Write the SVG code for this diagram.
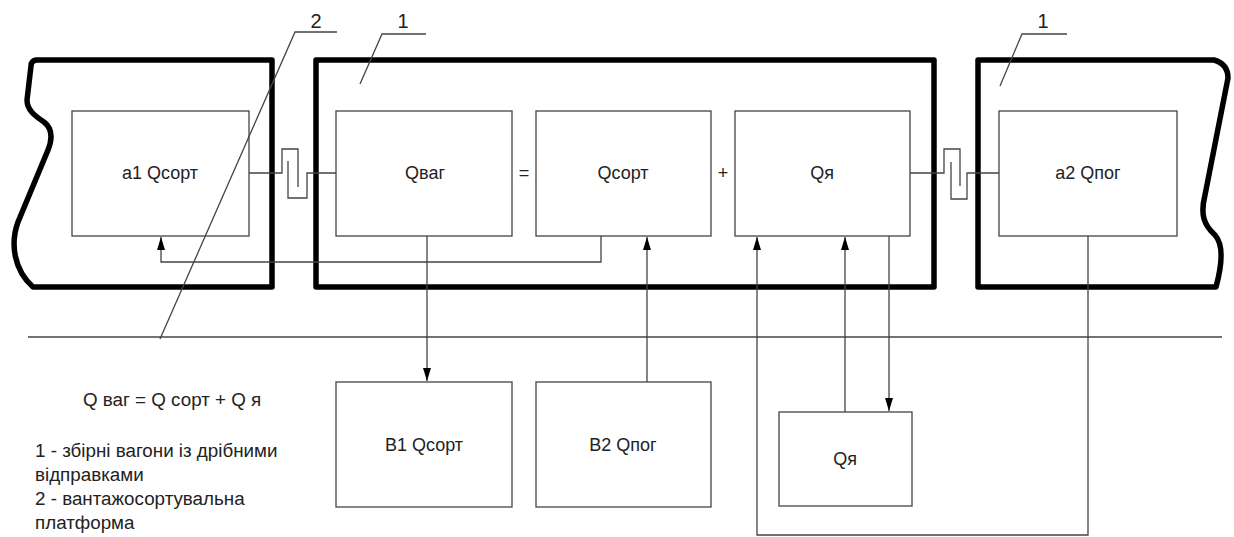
<svg xmlns="http://www.w3.org/2000/svg" width="1234" height="537" viewBox="0 0 1234 537">
<style>
.car{fill:none;stroke:#000;stroke-width:5.5;stroke-linejoin:round}
.box{fill:#fff;stroke:#444;stroke-width:1.3}
.ln{fill:none;stroke:#444;stroke-width:1.3}
.t{font-family:"Liberation Sans",Arial,sans-serif;font-size:18px;fill:#222}
.lg{font-family:"Liberation Sans",Arial,sans-serif;font-size:18.8px;fill:#222}
.c{text-anchor:middle}
.lbl{font-family:"Liberation Sans",Arial,sans-serif;font-size:20px;fill:#222;text-anchor:middle}
</style>
<defs>
<marker id="arr" viewBox="0 0 13 8" refX="13" refY="4" markerWidth="13" markerHeight="8" markerUnits="userSpaceOnUse" orient="auto">
<path d="M0,0 L13,4 L0,8 Z" fill="#000"/>
</marker>
</defs>
<rect width="1234" height="537" fill="#fff"/>

<g id="car-left">
<path class="car" d="M272,60 L36,60 Q31,61 31,66 L27,100 C27,110 35,116 44,122 C53,129 52,140 48,150 L18,222 C10,244 14,270 33,287 L272,287 Z"/>
</g>
<g id="car-middle">
<rect class="car" x="316" y="60" width="618" height="227"/>
</g>
<g id="car-right">
<path class="car" d="M978,60 H1214 Q1228,64 1228,78 L1205,195 C1200,215 1204,225 1215,235 C1224,245 1222,265 1216,287 H978 Z"/>
</g>

<g id="ground">
<line class="ln" x1="28" y1="337" x2="1222" y2="337"/>
</g>

<g id="connectors">
<path class="ln" d="M249,173 H282 V149 H298 V187"/>
<path class="ln" d="M288,161 V198 H307 V173 H336"/>
<path class="ln" d="M910,173 H944 V149 H960 V186"/>
<path class="ln" d="M951,162 V199 H967 V173 H999"/>
<path class="ln" d="M601,236 V262 H161 V237" marker-end="url(#arr)"/>
<path class="ln" d="M427,236 V381" marker-end="url(#arr)"/>
<path class="ln" d="M647,382 V237" marker-end="url(#arr)"/>
<path class="ln" d="M845,412 V237" marker-end="url(#arr)"/>
<path class="ln" d="M889,236 V411" marker-end="url(#arr)"/>
<path class="ln" d="M1088,236 V535 H757 V237" marker-end="url(#arr)"/>
</g>

<g id="node-a1">
<rect class="box" x="72" y="111" width="177" height="125"/>
<text class="t c" x="160" y="179">а1 Qсорт</text>
</g>
<g id="node-qvag">
<rect class="box" x="336" y="111" width="176" height="125"/>
<text class="t c" x="425" y="179">Qваг</text>
</g>
<text class="t c" x="524" y="179">=</text>
<g id="node-qsort">
<rect class="box" x="536" y="111" width="175" height="125"/>
<text class="t c" x="623" y="179">Qсорт</text>
</g>
<text class="t c" x="723" y="179">+</text>
<g id="node-qya">
<rect class="box" x="735" y="111" width="175" height="125"/>
<text class="t c" x="822" y="179">Qя</text>
</g>
<g id="node-a2">
<rect class="box" x="999" y="111" width="178" height="125"/>
<text class="t c" x="1088" y="179">а2 Qпог</text>
</g>
<g id="node-b1">
<rect class="box" x="336" y="382" width="176" height="125"/>
<text class="t c" x="424" y="451">В1 Qсорт</text>
</g>
<g id="node-b2">
<rect class="box" x="536" y="382" width="175" height="125"/>
<text class="t c" x="623" y="451">В2 Qпог</text>
</g>
<g id="node-qya2">
<rect class="box" x="779" y="412" width="133" height="94"/>
<text class="t c" x="845" y="465">Qя</text>
</g>

<g id="leaders">
<path class="ln" d="M337,32 H295 L160,339"/>
<text class="lbl" x="316" y="28">2</text>
<path class="ln" d="M426,34 H382 L360,84"/>
<text class="lbl" x="403" y="28">1</text>
<path class="ln" d="M1067,34 H1022 L1000,86"/>
<text class="lbl" x="1043" y="28">1</text>
</g>

<g id="legend">
<text class="lg" x="83" y="406">Q ваг = Q сорт + Q я</text>
<text class="lg" x="35" y="457">1 - збірні вагони із дрібними</text>
<text class="lg" x="35" y="481">відправками</text>
<text class="lg" x="35" y="505">2 - вантажосортувальна</text>
<text class="lg" x="35" y="529">платформа</text>
</g>
</svg>
